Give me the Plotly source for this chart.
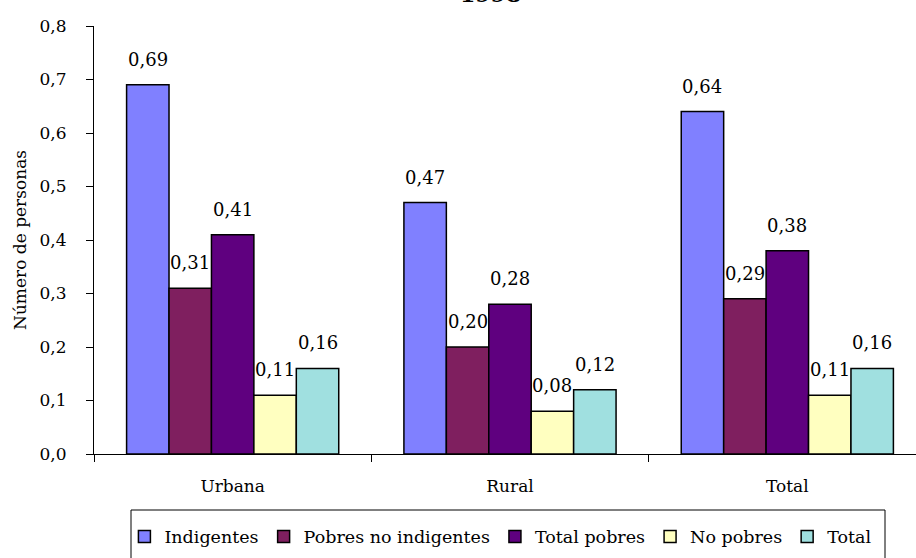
import plotly.graph_objects as go

categorias = ['Urbana', 'Rural', 'Total']
series = ['Indigentes', 'Pobres no indigentes', 'Total pobres', 'No pobres', 'Total']
indigentes = [0.69, 0.47, 0.64]
pobres_no_indigentes = [0.31, 0.20, 0.29]
total_pobres = [0.41, 0.28, 0.38]
no_pobres = [0.11, 0.08, 0.11]
total = [0.16, 0.12, 0.16]
colores = ['#8080FF', '#7F1F5F', '#5F007F', '#FFFFC0', '#A0E0E0']

valores = [indigentes, pobres_no_indigentes, total_pobres, no_pobres, total]

fuente = 'DejaVu Serif'
bargap = 0.235
ancho = (1 - bargap) / len(series)  # ancho de cada barra dentro del grupo

fig = go.Figure()

for i, (nombre, vals, color) in enumerate(zip(series, valores, colores)):
    fig.add_trace(go.Bar(
        x=categorias,
        y=vals,
        name=nombre,
        marker=dict(color=color, line=dict(color='black', width=1.5)),
    ))
    # etiquetas de datos encima de cada barra
    for c, v in enumerate(vals):
        fig.add_annotation(
            x=c + (i - (len(series) - 1) / 2) * ancho, y=v,
            xref='x', yref='y', text=f'{v:.2f}'.replace('.', ','),
            showarrow=False, yanchor='bottom', yshift=13,
            font=dict(family=fuente, size=18, color='black'),
        )

# titulo (cortado en la parte superior, como en la imagen original)
fig.add_annotation(
    text='<b>1998</b>', xref='paper', yref='paper', x=0.482, y=1.04,
    yanchor='bottom', showarrow=False,
    font=dict(family=fuente, size=22, color='black'),
)

# marco de la leyenda
fig.add_shape(
    type='rect', xref='paper', yref='paper',
    xsizemode='pixel', ysizemode='pixel', xanchor=0, yanchor=0,
    x0=37, x1=791, y0=-56, y1=-130,
    line=dict(color='black', width=1), fillcolor='rgba(0,0,0,0)',
)

fig.update_layout(
    width=916, height=558,
    margin=dict(l=94, r=0, t=26, b=104),
    barmode='group', bargap=bargap, bargroupgap=0,
    separators=',.',
    plot_bgcolor='white', paper_bgcolor='white',
    font=dict(family=fuente, size=17, color='black'),
    showlegend=True,
    legend=dict(
        orientation='h', x=0.037, y=-0.193, xanchor='left', yanchor='middle',
        borderwidth=0, bgcolor='rgba(0,0,0,0)',
        font=dict(family=fuente, size=17.5, color='black'),
    ),
    xaxis=dict(
        range=[-0.5, 2.464], showline=True, linecolor='black', linewidth=1,
        ticks='outside', tickson='boundaries', ticklen=7, tickcolor='black',
        ticklabelstandoff=17, showgrid=False,
        tickfont=dict(family=fuente, size=17),
    ),
    yaxis=dict(
        range=[0, 0.8], dtick=0.1, tickformat='.1f',
        showline=True, linecolor='black', linewidth=1,
        ticks='outside', ticklen=7, tickcolor='black', showgrid=False,
        zeroline=False, ticklabelstandoff=16,
        title=dict(text='Número de personas', font=dict(family=fuente, size=17), standoff=8),
        tickfont=dict(family=fuente, size=17),
    ),
)

fig.write_html('out.html', config={'displayModeBar': False},
               post_script="document.body.style.margin='0';")
